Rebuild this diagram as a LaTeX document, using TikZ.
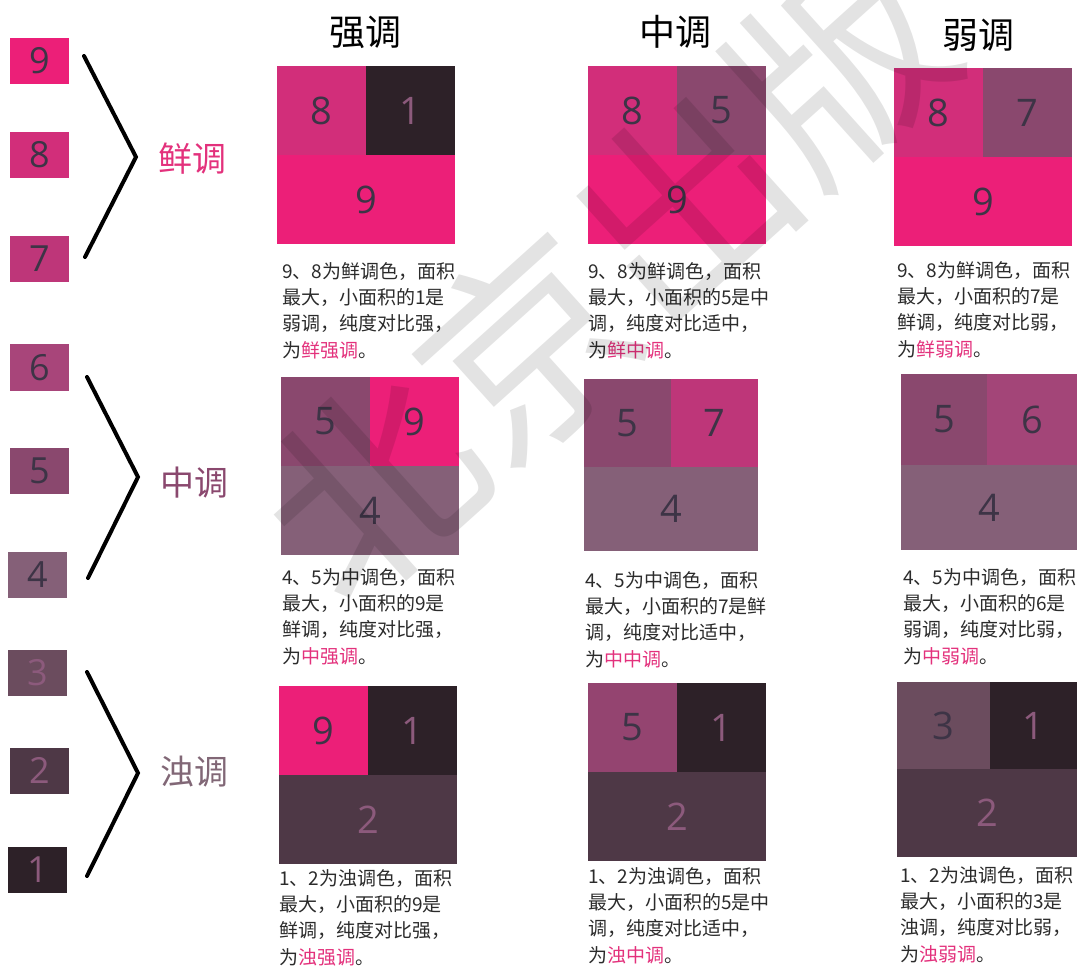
\documentclass[tikz,border=0pt]{standalone}
\usepackage{fontspec}
\setmainfont{Noto Sans CJK SC}
\newfontfamily\numfont{Open Sans}
\usetikzlibrary{positioning}

\definecolor{c9}{HTML}{EC1F78}
\definecolor{c8}{HTML}{D22E7A}
\definecolor{c7}{HTML}{BE3679}
\definecolor{c6}{HTML}{A8457A}
\definecolor{c5}{HTML}{8A486E}
\definecolor{c4}{HTML}{856078}
\definecolor{c3}{HTML}{6B4C5E}
\definecolor{c2}{HTML}{4E3846}
\definecolor{c1}{HTML}{2D2128}
\definecolor{numdark}{HTML}{3D3446}
\definecolor{numlight}{HTML}{8C5A7C}
\definecolor{hilite}{HTML}{E3317C}
\definecolor{bodytext}{HTML}{2B2B2B}

\newcommand{\pinktext}[1]{\textcolor{hilite}{#1}}

\tikzset{
    swatch/.style={
        rectangle, inner sep=0pt, outer sep=0pt,
        minimum width=59pt, minimum height=46pt,
        font=\numfont\fontsize{36}{36}\selectfont, text=numdark
    },
    half/.style={
        rectangle, inner sep=0pt, outer sep=0pt,
        minimum width=89pt, minimum height=89pt,
        font=\numfont\fontsize{38}{38}\selectfont, text=numdark
    },
    wide/.style={half, minimum width=178pt},
    ondark/.style={text=numlight},
    brace/.style={draw=black, line width=4pt, line cap=round},
    groupname/.style={anchor=west, inner sep=0pt, font=\fontsize{34}{34}\selectfont},
    header/.style={inner sep=0pt, font=\fontsize{36}{36}\selectfont},
    note/.style={
        anchor=north west, align=left, inner sep=0pt,
        text=bodytext, font=\fontsize{19}{26.3}\selectfont
    },
    watermark/.style={
        rotate=42, text=black, text opacity=0.11,
        font=\fontsize{210}{210}\selectfont
    }
}

\begin{document}
\begin{tikzpicture}[x=1pt, y=-1pt]
\useasboundingbox (0,0) rectangle (1082,968);
\clip (0,0) rectangle (1082,968);

% Purity scale
\node[swatch, fill=c9] (s9) at (39.5,61) {9};
\node[swatch, fill=c8] (s8) at (39.5,155) {8};
\node[swatch, fill=c7] (s7) at (39.5,259) {7};
\node[swatch, fill=c6] (s6) at (39.5,367.5) {6};
\node[swatch, fill=c5] (s5) at (39.5,471) {5};
\node[swatch, fill=c4] (s4) at (37.5,575) {4};
\node[swatch, fill=c3, ondark] (s3) at (37.5,672.5) {3};
\node[swatch, fill=c2, ondark] (s2) at (39.5,770.5) {2};
\node[swatch, fill=c1, ondark] (s1) at (37.5,870) {1};

% Braces and group names
\coordinate (top1) at (84,56);
\coordinate (tip1) at (136,157);
\coordinate (bot1) at (85,257);
\coordinate (top2) at (87,377);
\coordinate (tip2) at (138,477);
\coordinate (bot2) at (88,578);
\coordinate (top3) at (87,672);
\coordinate (tip3) at (138,773);
\coordinate (bot3) at (87,876);

\draw[brace] (top1) -- (tip1) -- (bot1);
\draw[brace] (top2) -- (tip2) -- (bot2);
\draw[brace] (top3) -- (tip3) -- (bot3);

\node[groupname, text=hilite] (vivid) at (158,159) {鲜调};
\node[groupname, text=c5] (middle) at (160,483) {中调};
\node[groupname, text=c3!85] (dull) at (160,772) {浊调};

% Column headers
\node[header] (strong) at (365,32) {强调};
\node[header] (medium) at (675,32) {中调};
\node[header] (weak) at (978,35) {弱调};

% Vivid row
\node[half, fill=c8, anchor=north west] (a11) at (277,66) {8};
\node[half, fill=c1, ondark, right=0pt of a11] (b11) {1};
\node[wide, fill=c9, anchor=north west] (c11) at (a11.south west) {9};

\node[half, fill=c8, anchor=north west] (a12) at (588,66) {8};
\node[half, fill=c5, right=0pt of a12] (b12) {5};
\node[wide, fill=c9, anchor=north west] (c12) at (a12.south west) {9};

\node[half, fill=c8, anchor=north west] (a13) at (894,68) {8};
\node[half, fill=c5, right=0pt of a13] (b13) {7};
\node[wide, fill=c9, anchor=north west] (c13) at (a13.south west) {9};

\node[note] (t11) at (282,262) {9、8为鲜调色，面积\\最大，小面积的1是\\弱调，纯度对比强，\\为\pinktext{鲜强调}。};
\node[note] (t12) at (588,262) {9、8为鲜调色，面积\\最大，小面积的5是中\\调，纯度对比适中，\\为\pinktext{鲜中调}。};
\node[note] (t13) at (897,261) {9、8为鲜调色，面积\\最大，小面积的7是\\鲜调，纯度对比弱，\\为\pinktext{鲜弱调}。};

% Middle row
\node[half, fill=c5, anchor=north west] (a21) at (281,377) {5};
\node[half, fill=c9, right=0pt of a21] (b21) {9};
\node[wide, fill=c4, anchor=north west] (c21) at (a21.south west) {4};

\node[half, fill=c5, anchor=north west, minimum width=87pt, minimum height=88pt] (a22) at (584,379) {5};
\node[half, fill=c7, right=0pt of a22, minimum width=87pt, minimum height=88pt] (b22) {7};
\node[wide, fill=c4, anchor=north west, minimum width=174pt, minimum height=84pt] (c22) at (a22.south west) {4};

\node[half, fill=c5, anchor=north west, minimum width=86pt, minimum height=91pt] (a23) at (901,374) {5};
\node[half, fill=c6!85!c5, right=0pt of a23, minimum width=90pt, minimum height=91pt] (b23) {6};
\node[wide, fill=c4, anchor=north west, minimum width=176pt, minimum height=85pt] (c23) at (a23.south west) {4};

\node[note] (t21) at (282,568) {4、5为中调色，面积\\最大，小面积的9是\\鲜调，纯度对比强，\\为\pinktext{中强调}。};
\node[note] (t22) at (585,571) {4、5为中调色，面积\\最大，小面积的7是鲜\\调，纯度对比适中，\\为\pinktext{中中调}。};
\node[note] (t23) at (903,568) {4、5为中调色，面积\\最大，小面积的6是\\弱调，纯度对比弱，\\为\pinktext{中弱调}。};

% Dull row
\node[half, fill=c9, anchor=north west] (a31) at (279,686) {9};
\node[half, fill=c1, ondark, right=0pt of a31] (b31) {1};
\node[wide, fill=c2, ondark, anchor=north west] (c31) at (a31.south west) {2};

\node[half, fill=c5!80!c7, anchor=north west] (a32) at (588,683) {5};
\node[half, fill=c1, ondark, right=0pt of a32] (b32) {1};
\node[wide, fill=c2, ondark, anchor=north west] (c32) at (a32.south west) {2};

\node[half, fill=c3, anchor=north west, minimum width=93pt, minimum height=87pt] (a33) at (897,682) {3};
\node[half, fill=c1, ondark, right=0pt of a33, minimum width=87pt, minimum height=87pt] (b33) {1};
\node[wide, fill=c2, ondark, anchor=north west, minimum width=180pt, minimum height=88pt] (c33) at (a33.south west) {2};

\node[note] (t31) at (279,869) {1、2为浊调色，面积\\最大，小面积的9是\\鲜调，纯度对比强，\\为\pinktext{浊强调}。};
\node[note] (t32) at (588,867) {1、2为浊调色，面积\\最大，小面积的5是中\\调，纯度对比适中，\\为\pinktext{浊中调}。};
\node[note] (t33) at (900,866) {1、2为浊调色，面积\\最大，小面积的3是\\浊调，纯度对比弱，\\为\pinktext{浊弱调}。};

% Watermark
\node[watermark] (wm) at (605,275) {北京出版};

\end{tikzpicture}
\end{document}
